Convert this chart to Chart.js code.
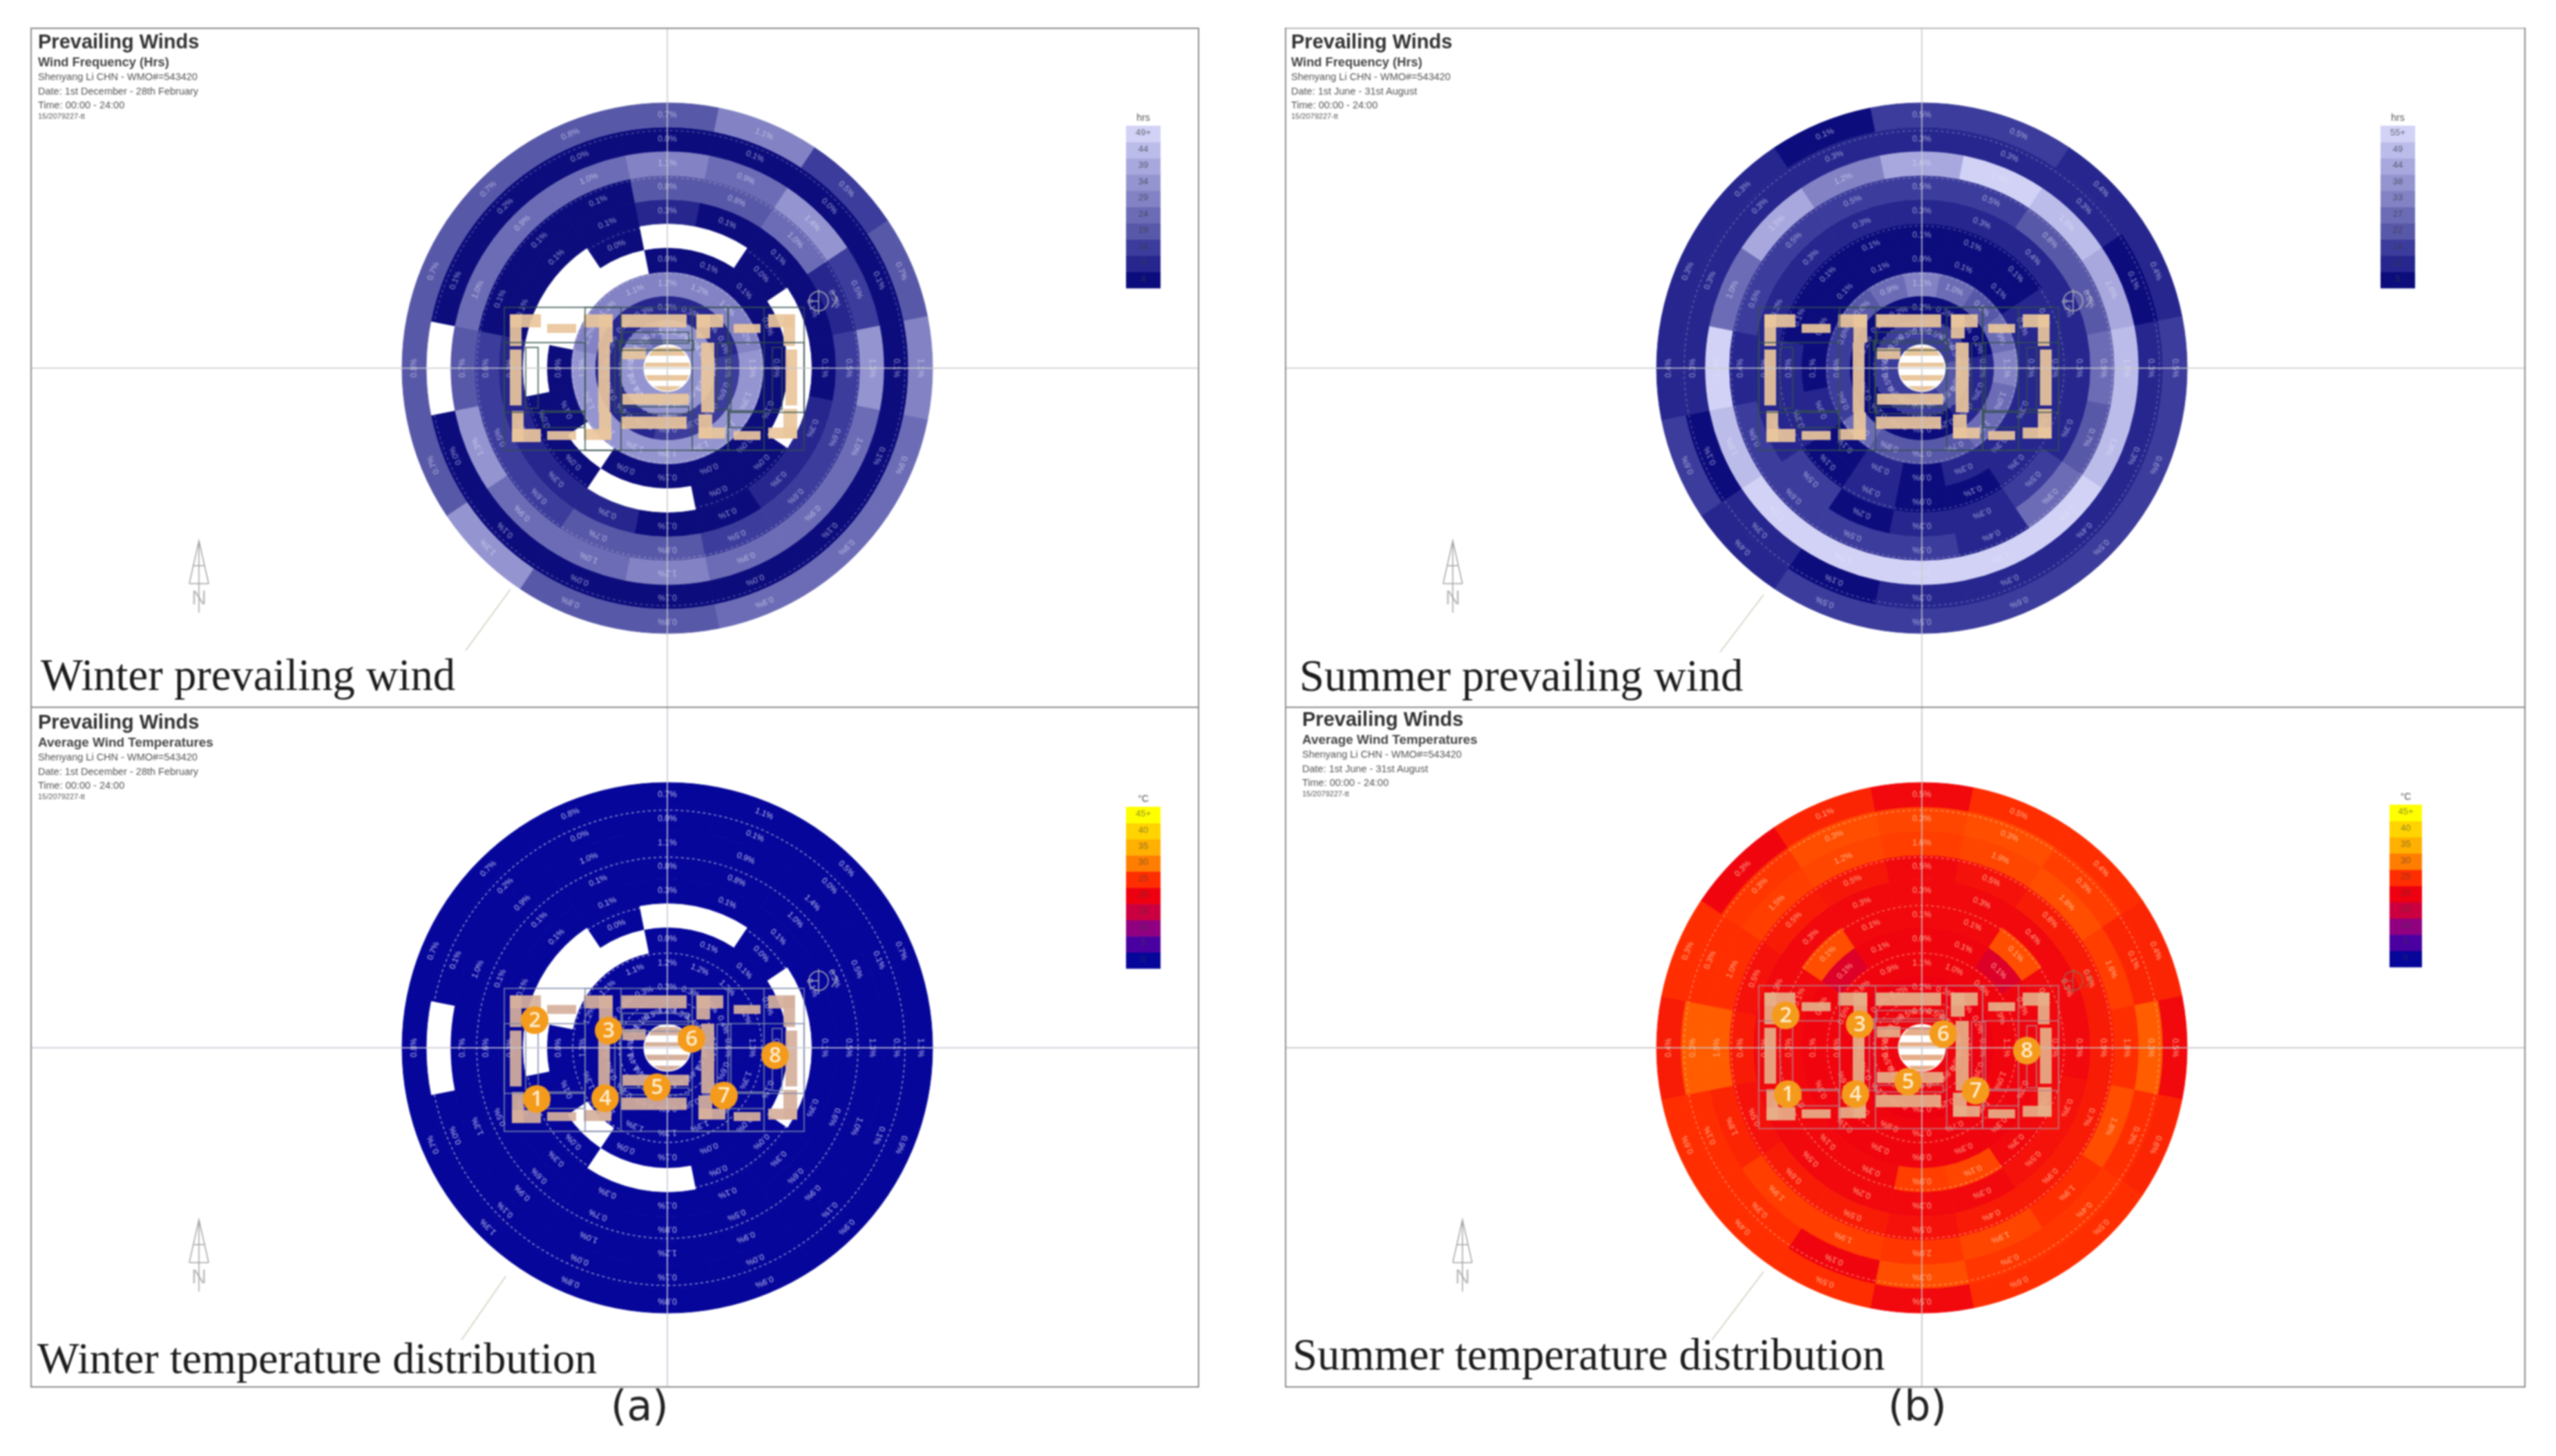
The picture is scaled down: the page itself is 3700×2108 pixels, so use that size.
<!DOCTYPE html>
<html><head><meta charset="utf-8">
<script src="https://cdn.jsdelivr.net/npm/chart.js@4"></script>
<style>
html,body{margin:0;padding:0;background:#fff;width:3700px;height:2108px;overflow:hidden}
#page{position:absolute;left:0;top:0;width:3700px;height:2108px;filter:blur(1.1px)}
canvas{position:absolute}
.t{position:absolute;white-space:nowrap;font-family:"Liberation Sans",Arial,sans-serif;color:#555;line-height:1}
.rule{position:absolute;background:#8c8c8c}
.cap{position:absolute;white-space:nowrap;font-family:"Liberation Serif","Times New Roman",serif;color:#1c1c1c;line-height:1}
.sub{position:absolute;white-space:nowrap;font-family:"DejaVu Sans",sans-serif;color:#222;line-height:1;font-size:60px}
</style></head>
<body><div id="page"></div>
<script>
const directions=['N','NNE','NE','ENE','E','ESE','SE','SSE','S','SSW','SW','WSW','W','WNW','NW','NNW'];
const sectorDegrees=[22.5,22.5,22.5,22.5,22.5,22.5,22.5,22.5,22.5,22.5,22.5,22.5,22.5,22.5,22.5,22.5];
// Percentage of hours per cell: outermost ring first, cells clockwise from N; null = no wind recorded
const winterFreq=[
[.7,1.1,.5,.7,1.1,.9,.9,.9,.8,.8,1.3,.7,.8,.7,.7,.8],
[.0,.1,.0,.1,.1,.1,.1,.0,.1,.0,.1,.0,null,.1,.2,.0],
[1.1,.9,1.4,.5,1.3,1.0,.9,.9,1.2,1.0,.9,1.3,.7,1.0,.9,1.0],
[.8,.8,1.0,.3,.5,.6,.6,.5,.8,.7,.6,.5,.6,.1,.1,.1],
[.3,.1,.1,.1,.1,.3,.3,.1,.1,.3,.3,.3,.3,.1,.1,.1],
[null,null,.0,null,null,null,.0,.0,null,null,.0,.0,null,null,null,.0],
[.0,.1,.1,.0,.0,.1,.0,.0,.1,.0,null,.1,.0,null,null,null],
[1.2,1.2,1.2,1.2,1.3,1.3,1.3,1.3,1.3,1.3,1.3,1.3,1.3,1.2,1.1,1.1],
[.3,.3,.3,.4,.6,.6,.5,.5,.5,.4,.4,.4,.4,.3,.3,.3],
[1.4,1.3,1.4,1.4,1.4,1.4,1.4,1.4,1.4,1.4,1.4,1.4,1.4,1.3,1.1,.9]];
const summerFreq=[
[.5,.5,.4,.4,.5,.6,.5,.6,.5,.5,.4,.6,.4,.3,.3,.1],
[.3,.3,.3,.1,.3,.3,.4,.3,.3,.1,.3,.1,.3,.3,.3,.3],
[1.6,1.9,1.8,1.6,1.8,1.8,1.9,1.9,2.0,1.9,1.9,1.8,1.9,1.0,1.5,1.2],
[.5,.5,.8,.8,.9,.7,.9,.4,.5,.5,.6,.5,.4,.5,.5,.5],
[.3,.3,.4,.3,.3,.3,.5,.3,.3,.2,.5,.3,.3,.3,.3,.3],
[.1,.1,.1,.3,.3,.3,.3,.1,.0,.3,.1,.3,.3,.1,.1,.1],
[.0,.1,.1,.3,.3,.3,.3,.3,.0,.3,.1,.3,.1,.1,.1,.1],
[1.1,1.0,.8,.9,1.1,1.0,1.0,.7,.7,.8,.9,.6,.6,.6,.8,.9],
[.2,.2,.2,.2,.3,.3,.3,.2,.2,.2,.2,.2,.2,.2,.2,.2],
[.5,.5,.5,.5,.8,.8,.8,.5,.5,.5,.5,.5,.5,.5,.5,.5]];
// Average wind temperature per cell, in degrees C
const winterTemp=[
[-9,-8,-9,-9,-9,-9,-9,-8,-8,-9,-9,-9,-9,-9,-9,-9],
[-9,-9,-9,-8,-9,-9,-9,-9,-9,-9,-9,-9,null,-9,-9,-9],
[-9,-9,-8,-9,-9,-9,-9,-9,-9,-8,-9,-9,-9,-9,-9,-9],
[-9,-9,-9,-9,-9,-9,-9,-9,-9,-9,-9,-9,-9,-8,-9,-9],
[-9,-9,-9,-9,-9,-9,-8,-9,-9,-9,-9,-9,-9,-9,-9,-9],
[null,null,-9,null,null,null,-9,-9,null,null,-9,-9,null,null,null,-9],
[-9,-9,-9,-9,-9,-9,-9,-9,-9,-9,null,-9,-9,null,null,null],
[-9,-9,-9,-9,-9,-9,-9,-9,-9,-9,-9,-9,-9,-9,-9,-9],
[-9,-9,-9,-9,-9,-9,-9,-9,-9,-9,-9,-9,-9,-9,-9,-9],
[-9,-9,-9,-9,-9,-9,-9,-9,-9,-9,-9,-9,-9,-9,-9,-9]];
const summerTemp=[
[21,25,25,24,21,24,25,25,21,25,25,25,23,25,20.5,24],
[26.5,27,26,24,28,25,25.5,25.5,27,20.5,25,25,28,25,25.5,27],
[26,26.5,27,26,25,27,25,26.5,25.5,26,26,24,28,25,26,26.5],
[21,22,23,23,23,23,23,23,22,23,23,22,23,22,23,22.5],
[21,21,21,21,21,22,22,21,21,21,21,21,21,21,21,21],
[21,21,27,21,21,21,21,26.5,26,21,21,21,21,21,27,21],
[20.5,20.5,17.5,20.5,20.5,20.5,20.5,20.5,20.5,20.5,20.5,20.5,20.5,20.5,17.5,20.5],
[20.5,20.5,20.5,20.5,20.5,20.5,20.5,20.5,20.5,20.5,20.5,20.5,20.5,20.5,20.5,20.5],
[20,20,20,20,20,20,20,20,20,20,20,20,20,20,20,20],
[20.5,20.5,20.5,20.5,20.5,20.5,20.5,20.5,20.5,20.5,20.5,20.5,20.5,20.5,20.5,20.5]];
const freqTicksWinter=['49+','44','39','34','29','24','19','14','9','4'];
const freqTicksSummer=['55+','49','44','38','33','27','22','16','11','5'];
const tempTicks=['45+','40','35','30','25','20','15','10','5','0'];
// Colour ramps: lowest class first
const freqRamp=['#0c0c7c','#26268e','#3c3c9c','#5858a8','#6c6cb6','#8282c4','#9494d0','#a8a8de','#bcbcea','#d2d2f6'];
const tempRamp=['#06069a','#4a00a0','#900080','#cc0040','#ee0010','#ff2e00','#ff7d00','#ffb000','#ffd400','#ffff00'];

function hex(c){return [1,3,5].map(i=>parseInt(c.substr(i,2),16));}
function freqColor(p){return p==null?'#ffffff':freqRamp[Math.min(9,Math.floor(p*4.8))];}
function tempColor(t){
  if(t==null)return '#ffffff';
  const v=Math.max(0,Math.min(45,t))/5,i=Math.min(8,Math.floor(v)),f=v-i,a=hex(tempRamp[i]),b=hex(tempRamp[i+1]);
  return `rgb(${a.map((x,k)=>Math.round(x+(b[k]-x)*f)).join(',')})`;
}
// Floor plan drawn over each rose (offsets from the rose centre, in px)
const planBlocks=[[-228,-78,45,19],[-228,-78,17,46],[-174,-64,42,13],[-228,-27,17,81],[-225,62,17,45],[-225,88,42,19],[-174,91,42,13],
[-121,-78,42,19],[-99,-78,20,41],[-100,-37,17,101],[-99,64,18,40],[-121,88,40,16],
[-67,-78,95,19],[-65,-29,34,16],[-65,37,96,16],[-67,70,95,18],
[42,-78,39,19],[42,-78,20,35],[49,-37,19,101],[45,67,20,35],[45,86,39,16],[96,-64,39,13],[96,91,39,13],
[146,-78,39,19],[168,-78,17,46],[171,-27,17,81],[168,59,20,43],[146,86,42,16]];
const planWalls=[[-236,-88,434,207],[-236,-37,117,101],[-119,-88,52,207],[36,-88,52,207],[88,-88,52,51],[88,64,52,55],[140,-37,58,101],
[-65,-52,96,16],[-65,56,96,10],[-205,-30,18,88],[-70,-40,108,14],[72,-36,20,96],[152,-30,14,90],[-180,62,60,24],[90,62,50,24],[-76,-40,8,104]];
const markerNames=['1','2','3','4','5','6','7','8'];

const roseOverlay={id:'roseOverlay',
 afterDatasetsDraw(chart,_a,o){
  const c=chart.ctx,a=chart.chartArea,cx=(a.left+a.right)/2,cy=(a.top+a.bottom)/2;
  // cell labels
  c.save();c.font='12px "Liberation Sans"';c.textAlign='center';c.textBaseline='middle';c.fillStyle=o.labelColor;
  chart.data.datasets.forEach((ds,i)=>{
    chart.getDatasetMeta(i).data.forEach((arc,j)=>{
      if(ds.freq[j]==null)return;
      const p=arc.getCenterPoint();
      c.save();c.translate(p.x,p.y);c.rotate((arc.startAngle+arc.endAngle)/2+Math.PI/2);
      c.fillText(ds.freq[j].toFixed(1)+'%',0,0);c.restore();
    });
  });
  c.restore();
  // dashed range circles
  c.save();c.strokeStyle=o.dashColor;c.lineWidth=1.5;c.setLineDash([4,4]);
  [344,276,206,137,70].forEach(r=>{c.beginPath();c.arc(cx,cy,r,0,Math.PI*2);c.stroke();});
  c.restore();
  // centre of the plan
  c.save();c.beginPath();c.arc(cx,cy,33,0,Math.PI*2);c.fillStyle='#fff';c.fill();c.clip();
  c.fillStyle=o.planColor;[[-34,-30,68,12],[-34,-8,68,6],[-34,10,68,8],[-34,26,68,8]].forEach(r=>c.fillRect(cx+r[0],cy+r[1],r[2],r[3]));
  c.restore();
  // floor plan
  c.save();c.globalAlpha=.92;c.fillStyle=o.planColor;
  planBlocks.forEach(r=>c.fillRect(cx+o.planDx+r[0],cy+o.planDy+r[1],r[2],r[3]));
  c.globalAlpha=.75;c.strokeStyle=o.wallColor;c.lineWidth=2;
  planWalls.forEach(r=>c.strokeRect(cx+o.planDx+r[0],cy+o.planDy+r[1],r[2],r[3]));
  c.restore();
  // crosshair
  c.save();c.strokeStyle=o.crossColor;c.lineWidth=2;c.beginPath();
  c.moveTo(0,cy);c.lineTo(chart.width,cy);c.moveTo(cx,0);c.lineTo(cx,chart.height);c.stroke();c.restore();
  // compass sign
  c.save();c.strokeStyle=o.signColor;c.lineWidth=1.5;c.beginPath();c.arc(cx+219,cy-97,14,0,Math.PI*2);
  c.moveTo(cx+219,cy-114);c.lineTo(cx+219,cy-78);c.moveTo(cx+205,cy-97);c.lineTo(cx+219,cy-97);
  c.moveTo(cx+238,cy-112);c.lineTo(cx+246,cy-100);c.lineTo(cx+238,cy-88);c.stroke();c.restore();
  // north arrow
  const nx=o.north[0]-o.left,ny=o.north[1]-o.top;
  c.save();c.strokeStyle='#a4a4a4';c.fillStyle='#a4a4a4';c.lineWidth=1.5;c.beginPath();
  c.moveTo(nx-14,ny+62);c.lineTo(nx,ny);c.lineTo(nx+14,ny+62);c.moveTo(nx-14,ny+62);c.lineTo(nx+14,ny+62);
  c.moveTo(nx,ny);c.lineTo(nx,ny+104);c.moveTo(nx-8,ny+36);c.lineTo(nx+8,ny+36);c.stroke();
  c.font='30px "Liberation Sans"';c.textAlign='center';c.textBaseline='middle';c.globalAlpha=.75;c.fillText('N',nx,ny+84);c.restore();
  // leader line to the caption
  c.save();c.strokeStyle='#d6d6c8';c.lineWidth=2;c.beginPath();
  c.moveTo(o.leader[0]-o.left,o.leader[1]-o.top);c.lineTo(o.leader[2]-o.left,o.leader[3]-o.top);c.stroke();c.restore();
  // ramp legend
  const L=o.legend,cellH=L.h/10;
  L.colors.forEach((col,i)=>{c.fillStyle=col;c.fillRect(L.x-o.left,L.y-o.top+L.h-(i+1)*cellH,L.w,cellH+.5);});
  c.save();c.textAlign='center';c.textBaseline='middle';c.font='13px "Liberation Sans"';c.fillStyle='#3a3a46';
  L.ticks.forEach((t,i)=>{c.globalAlpha=L.tickAlpha;c.fillText(t,L.x-o.left+L.w/2,L.y-o.top+(i+.45)*cellH);});
  c.globalAlpha=1;c.fillStyle='#555';c.font='14px "Liberation Sans"';c.fillText(L.unit,L.x-o.left+L.w/2,L.y-o.top-11);c.restore();
  // numbered points
  if(o.markers){
    c.save();c.textAlign='center';c.textBaseline='middle';c.font='600 31px "Open Sans"';
    o.markers.forEach((m,i)=>{
      c.beginPath();c.arc(cx+m[0],cy+m[1],20,0,Math.PI*2);c.fillStyle='#f49b1c';c.fill();
      c.fillStyle='#ffeccb';c.fillText(markerNames[i],cx+m[0],cy+m[1]+1);
    });
    c.restore();
  }
 }
};

const page=document.getElementById('page');
function addText(cls,txt,x,y,style){const d=document.createElement('div');d.className=cls;d.textContent=txt;d.style.left=x+'px';d.style.top=y+'px';Object.assign(d.style,style||{});page.appendChild(d);return d;}
function addRule(x,y,w,h,col){const d=document.createElement('div');d.className='rule';Object.assign(d.style,{left:x+'px',top:y+'px',width:w+'px',height:h+'px',background:col||'#8c8c8c'});page.appendChild(d);}

addRule(44,40,1692,2);addRule(44,1023,1692,2);addRule(44,2007,1692,2);addRule(44,40,2,1969);addRule(1734,40,2,1969);
addRule(1860,40,1796,2,'#b8b8b8');addRule(1860,1023,1796,2);addRule(1860,2007,1796,2);addRule(1860,40,2,1969);addRule(3654,40,2,1969);

function heading(x,y,sub,subPx,site,date,time,stamp){
 addText('t','Prevailing Winds',x,y-14,{fontSize:'29px',fontWeight:'bold',color:'#333'});
 addText('t',sub,x,y+21,{fontSize:subPx+'px',fontWeight:'bold',color:'#444'});
 addText('t',site,x,y+44,{fontSize:'14.5px'});
 addText('t',date,x,y+65,{fontSize:'14.5px'});
 addText('t',time,x,y+85,{fontSize:'14.5px'});
 addText('t',stamp,x,y+103,{fontSize:'11px'});
}
const SITE='Shenyang Li CHN - WMO#=543420';
heading(55,60,'Wind Frequency (Hrs)',18.3,SITE,'Date: 1st December - 28th February','Time: 00:00 - 24:00','15/2079227-tt');
heading(1869,60,'Wind Frequency (Hrs)',18.3,SITE,'Date: 1st June - 31st August','Time: 00:00 - 24:00','15/2079227-tt');
heading(55,1045,'Average Wind Temperatures',18.9,SITE,'Date: 1st December - 28th February','Time: 00:00 - 24:00','15/2079227-tt');
heading(1885,1041,'Average Wind Temperatures',18.9,SITE,'Date: 1st June - 31st August','Time: 00:00 - 24:00','15/2079227-tt');

const meas=document.createElement('canvas').getContext('2d');
function caption(txt,x,baseline,width){
 meas.font='100px "Liberation Serif"';const fs=100*width/meas.measureText(txt).width;
 addText('cap',txt,x,baseline-fs*.78,{fontSize:fs.toFixed(1)+'px'});
}
caption('Winter prevailing wind',59,995,600);
caption('Summer prevailing wind',1881,996,642);
caption('Winter temperature distribution',54,1985,810);
caption('Summer temperature distribution',1871,1979,857);
addText('sub','(a)',884,2005);
addText('sub','(b)',2733,2005);

function rose(cfg){
 const cv=document.createElement('canvas');
 cv.width=cfg.w;cv.height=cfg.h;cv.style.left=cfg.left+'px';cv.style.top=cfg.top+'px';cv.style.width=cfg.w+'px';cv.style.height=cfg.h+'px';
 page.appendChild(cv);
 const box=769,pl=cfg.cx-cfg.left-384.5,pt=cfg.cy-cfg.top-384.5;
 new Chart(cv,{type:'doughnut',plugins:[roseOverlay],
  data:{labels:directions,datasets:cfg.values.map((row,i)=>{
    const cols=row.map(cfg.color);
    return {label:'Ring '+(i+1),data:sectorDegrees,values:row,freq:cfg.freq[i],backgroundColor:cols,borderColor:cols,borderWidth:1};
  })},
  options:{responsive:false,animation:false,rotation:-11.25,cutout:35,
   layout:{padding:{left:pl,top:pt,right:cfg.w-pl-box,bottom:cfg.h-pt-box}},
   plugins:{legend:{display:false},tooltip:{enabled:false},roseOverlay:cfg.overlay}}
 });
}
const TOP=42,MID=1025,HT=981,HB=982,LW=1688,RW=1792;
const dashFreq='rgba(255,255,255,.28)',dashTemp='rgba(255,255,255,.6)';
rose({left:46,top:TOP,w:LW,h:HT,cx:966,cy:533,values:winterFreq,freq:winterFreq,color:freqColor,overlay:{
 left:46,top:TOP,labelColor:'rgba(226,226,250,.62)',dashColor:dashFreq,planColor:'#e9c69c',wallColor:'#34504c',crossColor:'rgba(200,200,205,.75)',signColor:'#b0b0b4',
 planDx:0,planDy:0,north:[288,783],leader:[739,853,674,942],
 legend:{x:1630,y:182,w:50,h:235,colors:freqRamp,ticks:freqTicksWinter,unit:'hrs',tickAlpha:.7}}});
rose({left:1862,top:TOP,w:RW,h:HT,cx:2782,cy:533,values:summerFreq,freq:summerFreq,color:freqColor,overlay:{
 left:1862,top:TOP,labelColor:'rgba(226,226,250,.62)',dashColor:dashFreq,planColor:'#e9c69c',wallColor:'#34504c',crossColor:'rgba(200,200,205,.75)',signColor:'#b0b0b4',
 planDx:0,planDy:0,north:[2103,783],leader:[2553,861,2490,944],
 legend:{x:3446,y:182,w:50,h:235,colors:freqRamp,ticks:freqTicksSummer,unit:'hrs',tickAlpha:.7}}});
rose({left:46,top:MID,w:LW,h:HB,cx:966,cy:1517,values:winterTemp,freq:winterFreq,color:tempColor,overlay:{
 left:46,top:MID,labelColor:'rgba(226,226,255,.8)',dashColor:dashTemp,planColor:'#d6b09c',wallColor:'#7c88a8',crossColor:'rgba(200,200,215,.8)',signColor:'#b0b0b4',
 planDx:0,planDy:2,north:[288,1766],leader:[732,1848,668,1940],
 markers:[[-189,74],[-192,-40],[-85,-25],[-90,73],[-15,57],[35,-13],[82,69],[156,11]],
 legend:{x:1630,y:1168,w:50,h:234,colors:tempRamp,ticks:tempTicks,unit:'°C',tickAlpha:.55}}});
rose({left:1862,top:MID,w:RW,h:HB,cx:2782,cy:1517,values:summerTemp,freq:summerFreq,color:tempColor,overlay:{
 left:1862,top:MID,labelColor:'rgba(255,205,170,.8)',dashColor:'rgba(255,200,170,.55)',planColor:'#e6ae88',wallColor:'#b8808a',crossColor:'rgba(200,190,190,.8)',signColor:'#a06050',
 planDx:0,planDy:-2,north:[2117,1766],leader:[2553,1841,2478,1940],
 markers:[[-194,67],[-197,-47],[-90,-34],[-96,67],[-20,49],[31,-20],[78,62],[152,4]],
 legend:{x:3459,y:1165,w:47,h:235,colors:tempRamp,ticks:tempTicks,unit:'°C',tickAlpha:.55}}});
</script>
</body></html>
